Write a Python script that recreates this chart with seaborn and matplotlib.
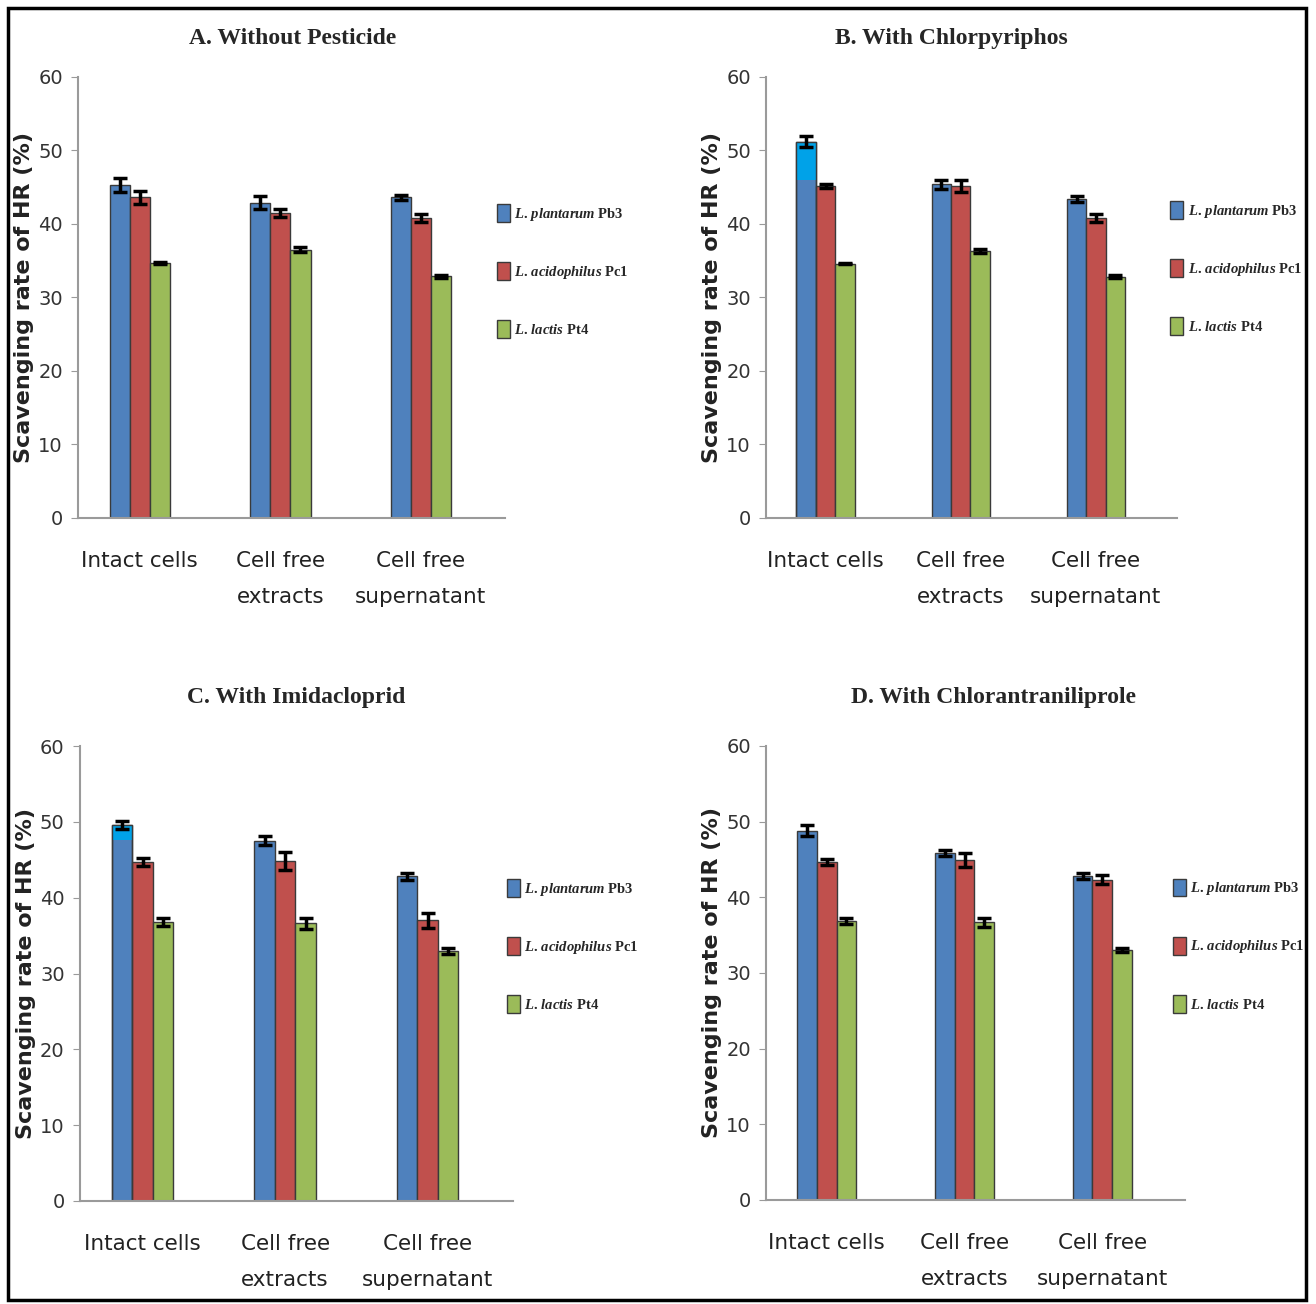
import numpy as np
import pandas as pd
import matplotlib
matplotlib.use("Agg")
import matplotlib.pyplot as plt
import seaborn as sns
from matplotlib.patches import Rectangle

# categories on the x axis and the three strains (hue)
categories = ["Intact cells", "Cell free\nextracts", "Cell free\nsupernatant"]
strains = ["L. plantarum Pb3", "L. acidophilus Pc1", "L. lactis Pt4"]
legend_labels = [r"$\it{L.\,plantarum}$ Pb3", r"$\it{L.\,acidophilus}$ Pc1", r"$\it{L.\,lactis}$ Pt4"]
titles = ["A. Without Pesticide", "B. With Chlorpyriphos", "C. With Imidacloprid", "D. With Chlorantraniliprole"]

# scavenging rate (%), rows = strain, cols = category
a_vals = [[45.3, 42.9, 43.6], [43.6, 41.5, 40.8], [34.7, 36.5, 32.9]]
a_errs = [[0.9, 0.9, 0.4], [0.9, 0.6, 0.6], [0.1, 0.3, 0.2]]
b_vals = [[51.2, 45.4, 43.4], [45.2, 45.2, 40.8], [34.6, 36.3, 32.8]]
b_errs = [[0.7, 0.6, 0.4], [0.3, 0.8, 0.6], [0.1, 0.3, 0.2]]
c_vals = [[49.6, 47.5, 42.8], [44.7, 44.8, 37.0], [36.8, 36.6, 33.0]]
c_errs = [[0.5, 0.6, 0.5], [0.5, 1.2, 1.0], [0.5, 0.7, 0.4]]
d_vals = [[48.8, 45.8, 42.8], [44.6, 44.9, 42.3], [36.9, 36.7, 33.0]]
d_errs = [[0.7, 0.4, 0.4], [0.4, 0.9, 0.6], [0.4, 0.6, 0.3]]

# the scanned figure has a light-blue top on two "Intact cells" blue bars
cyan_start = [None, 46.0, 47.6, None]

palette = ["#4F81BD", "#C0504D", "#9BBB59"]

sns.set_style("white")
plt.rcParams["mathtext.fontset"] = "custom"
plt.rcParams["mathtext.it"] = "Liberation Serif:italic:bold"
plt.rcParams["mathtext.rm"] = "Liberation Serif:bold"

fig = plt.figure(figsize=(13.16, 13.04), dpi=100)

boxes = [[0.0593, 0.6028, 0.3245, 0.3382],
         [0.5821, 0.6028, 0.3123, 0.3382],
         [0.0608, 0.0790, 0.3290, 0.3489],
         [0.5821, 0.0798, 0.3184, 0.3482]]
title_pos = [(0.2226, 0.9705), (0.7226, 0.9705), (0.2249, 0.4650), (0.7546, 0.4650)]
legend_anchor = [(0.981, 0.56), (0.983, 0.567), (0.986, 0.56), (0.971, 0.56)]

all_vals = [a_vals, b_vals, c_vals, d_vals]
all_errs = [a_errs, b_errs, c_errs, d_errs]

for i in range(4):
    ax = fig.add_axes(boxes[i])
    df = pd.DataFrame({
        "category": np.tile(categories, 3),
        "strain": np.repeat(strains, 3),
        "value": np.array(all_vals[i]).ravel(),
    })
    sns.barplot(data=df, x="category", y="value", hue="strain", order=categories,
                hue_order=strains, palette=palette, width=0.43, errorbar=None,
                edgecolor="#3a3a3a", linewidth=1.0, saturation=1, ax=ax, legend=False)

    for k, cont in enumerate(ax.containers[:3]):
        xs = [p.get_x() + p.get_width() / 2 for p in cont]
        ys = [p.get_height() for p in cont]
        if k == 0 and cyan_start[i] is not None:
            p = cont[0]
            ax.bar(xs[0], ys[0] - cyan_start[i], bottom=cyan_start[i], width=p.get_width(),
                   color="#00A2E8", edgecolor="none", linewidth=0, zorder=p.get_zorder())
            ax.bar(xs[0], ys[0], width=p.get_width(), fill=False,
                   edgecolor="#3a3a3a", linewidth=1.0, zorder=p.get_zorder())
        ax.errorbar(xs, ys, yerr=all_errs[i][k], fmt="none", ecolor="black",
                    elinewidth=2.5, capsize=5, capthick=2.5, zorder=5)

    ax.set_xlim(-0.44, 2.6)
    ax.set_ylim(0, 60)
    ax.set_yticks(range(0, 61, 10))
    ax.set_xlabel("")
    ax.set_ylabel("Scavenging rate of HR (%)", fontsize=16, fontweight="bold",
                  color="#222222", labelpad=3)
    sns.despine(ax=ax)
    for s in ["left", "bottom"]:
        ax.spines[s].set_color("#9a9a9a")
        ax.spines[s].set_linewidth(1.5)
    ax.tick_params(axis="y", direction="out", length=5, color="#9a9a9a", labelsize=14,
                   labelcolor="#333333", left=True, pad=6)
    ax.tick_params(axis="x", length=0, labelsize=15.5, pad=24)
    for lab in ax.get_xticklabels():
        lab.set_linespacing(2.0)
        lab.set_color("#222222")

    handles = [Rectangle((0, 0), 1, 1, facecolor=c, edgecolor="#3a3a3a", linewidth=1.0)
               for c in palette]
    ax.legend(handles, legend_labels, loc="center left", bbox_to_anchor=legend_anchor[i],
              frameon=False, prop={"family": "Liberation Serif", "weight": "bold", "size": 10.5},
              handlelength=0.9, handleheight=1.5, handletextpad=0.3, labelspacing=2.7,
              borderpad=0, borderaxespad=0)

    fig.text(title_pos[i][0], title_pos[i][1], titles[i], ha="center", va="center",
             fontsize=17, fontweight="bold", family="Liberation Serif")

# outer frame around the whole figure
fig.patches.append(Rectangle((0.006, 0.003), 0.9863, 0.9908, transform=fig.transFigure,
                             fill=False, edgecolor="black", linewidth=2.5))

fig.savefig("out.png", dpi=100, facecolor="white")
